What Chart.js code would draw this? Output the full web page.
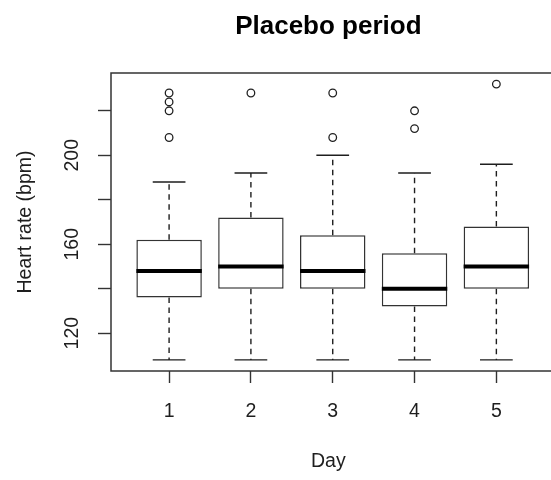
<!DOCTYPE html>
<html>
<head>
<meta charset="utf-8">
<script src="https://cdn.jsdelivr.net/npm/chart.js@4"></script>
<style>html, body { margin: 0; background: #fff; }</style>
</head>
<body>
<canvas id="c" width="551" height="480"></canvas>
<script>
// values
const days = [1, 2, 3, 4, 5]
const dayLabels = ['1', '2', '3', '4', '5']
const lowerWhisker = [108, 108, 108, 108, 108]
const q1 = [136, 140, 140, 132, 140]
const median = [148, 150, 148, 140, 150]
const q3 = [162, 172, 164, 156, 168]
const upperWhisker = [188, 192, 200, 192, 196]
const outliers = [[208, 220, 224, 228], [228], [208, 228], [212, 220], [232]]
const yTicks = [120, 140, 160, 180, 200, 220]
const yLabelled = [120, 160, 200]

const ink = '#1e1e1e'
const face = 'Arial, "Liberation Sans", sans-serif'

// whiskers, caps, medians, frame and rotated y labels
const boxParts = {
  id: 'boxParts',
  beforeDatasetsDraw(chart) {
    const { ctx, scales: { x, y } } = chart
    const capHalf = x.getPixelForValue(1.2) - x.getPixelForValue(1)
    ctx.save()
    ctx.strokeStyle = ink
    ctx.lineWidth = 1.4
    days.forEach((d, i) => {
      const px = x.getPixelForValue(d)
      ctx.setLineDash([5.5, 4.5])
      ctx.beginPath()
      ctx.moveTo(px, y.getPixelForValue(q3[i]))
      ctx.lineTo(px, y.getPixelForValue(upperWhisker[i]))
      ctx.stroke()
      ctx.beginPath()
      ctx.moveTo(px, y.getPixelForValue(q1[i]))
      ctx.lineTo(px, y.getPixelForValue(lowerWhisker[i]))
      ctx.stroke()
      ctx.setLineDash([])
      ctx.beginPath()
      for (const v of [upperWhisker[i], lowerWhisker[i]]) {
        const py = y.getPixelForValue(v)
        ctx.moveTo(px - capHalf, py)
        ctx.lineTo(px + capHalf, py)
      }
      ctx.stroke()
    })
    ctx.restore()
  },
  afterDatasetsDraw(chart) {
    const { ctx, scales: { y } } = chart
    const meta = chart.getDatasetMeta(0)
    ctx.save()
    ctx.strokeStyle = '#000'
    ctx.lineWidth = 4
    meta.data.forEach((bar, i) => {
      const { x: bx, width } = bar.getProps(['x', 'width'], true)
      const py = y.getPixelForValue(median[i])
      ctx.beginPath()
      ctx.moveTo(bx - width / 2, py)
      ctx.lineTo(bx + width / 2, py)
      ctx.stroke()
    })
    ctx.restore()
  },
  afterDraw(chart) {
    const { ctx, chartArea: a, scales: { y } } = chart
    ctx.save()
    ctx.strokeStyle = '#333'
    ctx.lineWidth = 1.5
    ctx.strokeRect(a.left, a.top, a.right - a.left + 12, a.bottom - a.top)
    ctx.fillStyle = ink
    ctx.font = '19.5px ' + face
    ctx.textAlign = 'center'
    ctx.textBaseline = 'middle'
    for (const v of yLabelled) {
      ctx.save()
      ctx.translate(72.5, y.getPixelForValue(v))
      ctx.rotate(-Math.PI / 2)
      ctx.fillText(String(v), 0, 0)
      ctx.restore()
    }
    ctx.restore()
  }
}

new Chart(document.getElementById('c'), {
  type: 'bar',
  data: {
    datasets: [
      {
        type: 'bar',
        data: days.map((d, i) => ({ x: d, y: [q1[i], q3[i]] })),
        backgroundColor: '#fff',
        borderColor: '#333',
        borderWidth: 1.5,
        borderSkipped: false,
        categoryPercentage: 0.8,
        barPercentage: 1,
      },
      {
        type: 'scatter',
        data: outliers.flatMap((list, i) => list.map(v => ({ x: days[i], y: v }))),
        pointStyle: 'circle',
        pointRadius: 3.8,
        pointBackgroundColor: 'rgba(0,0,0,0)',
        pointBorderColor: '#222',
        pointBorderWidth: 1.3,
      },
    ],
  },
  options: {
    responsive: false,
    animation: false,
    layout: { padding: 0 },
    plugins: {
      legend: { display: false },
      tooltip: { enabled: false },
      title: {
        display: true,
        text: 'Placebo period',
        fullSize: false,
        color: '#000',
        font: { family: face, size: 26, weight: 'bold' },
        padding: { top: 10.9, bottom: 30.9 },
      },
    },
    scales: {
      x: {
        type: 'linear',
        offset: false,
        min: 0.29,
        max: 5.603,
        afterBuildTicks: s => { s.ticks = days.map(v => ({ value: v })) },
        afterFit: s => { s.height = 109 },
        grid: { offset: false, drawOnChartArea: false, tickLength: 12, tickColor: '#333', tickWidth: 1.4 },
        border: { display: false },
        ticks: {
          color: ink,
          padding: 16.5,
          maxRotation: 0,
          font: { family: face, size: 19.5 },
          callback: (v, i) => dayLabels[i],
        },
        title: {
          display: true,
          text: 'Day',
          color: ink,
          font: { family: face, size: 19.5 },
          padding: { top: 0, bottom: 7 },
        },
      },
      y: {
        min: 103,
        max: 237,
        afterBuildTicks: s => { s.ticks = yTicks.map(v => ({ value: v })) },
        afterFit: s => { s.width = 111 },
        grid: { drawOnChartArea: false, tickLength: 13, tickColor: '#333', tickWidth: 1.4 },
        border: { display: false },
        ticks: { display: false },
        title: {
          display: true,
          text: 'Heart rate (bpm)',
          color: ink,
          font: { family: face, size: 19.5 },
          padding: { top: 14, bottom: 0 },
        },
      },
    },
  },
  plugins: [boxParts],
})
</script>
</body>
</html>
